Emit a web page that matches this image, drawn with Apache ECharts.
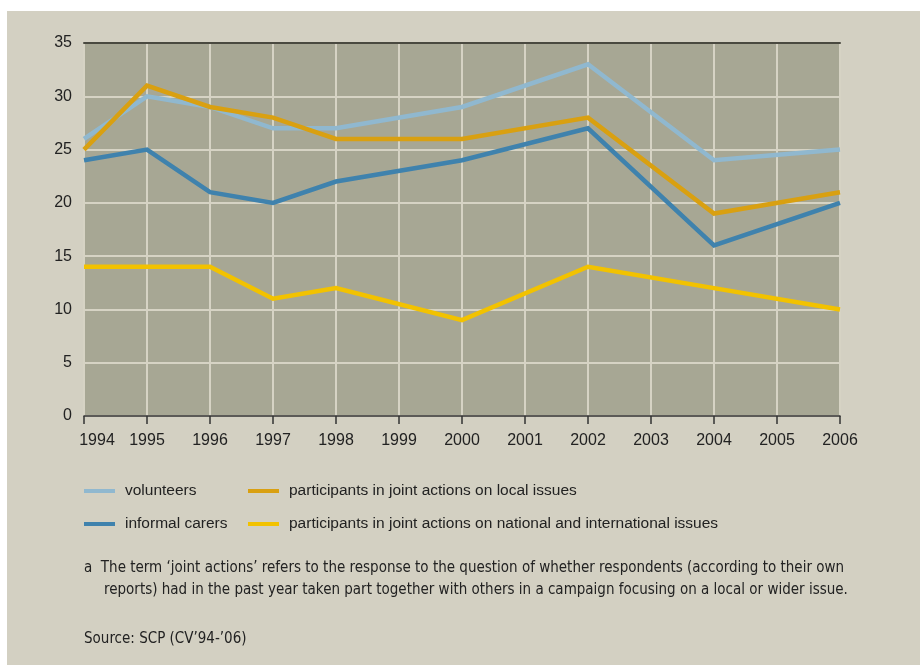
<!DOCTYPE html>
<html>
<head>
<meta charset="utf-8">
<script src="https://cdn.jsdelivr.net/npm/echarts@6/dist/echarts.min.js"></script>
<style>
  html, body { margin: 0; padding: 0; background: #fff; }
  #chart { width: 920px; height: 667px; }
</style>
</head>
<body>
<div id="chart"></div>
<script>
const years = ['1994', '1995', '1996', '1997', '1998', '1999', '2000', '2001', '2002', '2003', '2004', '2005', '2006'];
// surveyed years only; odd years after 1998 have no measurement
const volunteers = [26, 30, 29, 27, 27, null, 29, null, 33, null, 24, null, 25];
const informalCarers = [24, 25, 21, 20, 22, null, 24, null, 27, null, 16, null, 20];
const localIssues = [25, 31, 29, 28, 26, null, 26, null, 28, null, 19, null, 21];
const nationalIssues = [14, 14, 14, 11, 12, null, 9, null, 14, null, 12, null, 10];
const seriesNames = [
  'volunteers',
  'informal carers',
  'participants in joint actions on local issues',
  'participants in joint actions on national and international issues',
];
const footnote1 = 'a  The term \u2018joint actions\u2019 refers to the response to the question of whether respondents (according to their own';
const footnote2 = 'reports) had in the past year taken part together with others in a campaign focusing on a local or wider issue.';
const sourceText = 'Source: SCP (CV\u201994-\u201906)';

const narrow = '"DejaVu Sans Condensed", sans-serif';
const sans = '"Liberation Sans", Arial, sans-serif';
const colors = ['#90b8cf', '#3f82ad', '#d9a011', '#f2c200'];

const chart = echarts.init(document.getElementById('chart'));

function lineSeries(name, data, color) {
  return {
    name: name,
    type: 'line',
    data: data,
    connectNulls: true,
    symbol: 'none',
    lineStyle: { color: color, width: 4.5, join: 'miter' },
    itemStyle: { color: color },
  };
}

const legendText = {
  color: '#222',
  fontFamily: sans,
  fontSize: 15.5,
  lineHeight: 18,
  padding: [0, 0, 0, 5],
};

chart.setOption({
  backgroundColor: '#fff',
  animation: false,
  color: colors,
  graphic: [
    {
      type: 'rect',
      left: 7, top: 11, z: -10,
      shape: { width: 913, height: 654 },
      style: { fill: '#d3d0c2' },
    },
    {
      type: 'text', left: 84, top: 561,
      style: { text: footnote1, fill: '#222', font: '15px ' + narrow },
    },
    {
      type: 'text', left: 104, top: 583,
      style: { text: footnote2, fill: '#222', font: '15px ' + narrow },
    },
    {
      type: 'text', left: 84, top: 632,
      style: { text: sourceText, fill: '#222', font: '15px ' + narrow },
    },
  ],
  grid: {
    left: 84, right: 80, top: 43, bottom: 251,
    show: true, backgroundColor: '#a7a794', borderWidth: 0,
  },
  legend: [
    {
      orient: 'vertical', left: 84, top: 482, padding: 0,
      itemWidth: 31, itemHeight: 4, itemGap: 15,
      icon: 'rect',
      data: [seriesNames[0], seriesNames[1]],
      textStyle: legendText,
    },
    {
      orient: 'vertical', left: 248, top: 482, padding: 0,
      itemWidth: 31, itemHeight: 4, itemGap: 15,
      icon: 'rect',
      data: [seriesNames[2], seriesNames[3]],
      textStyle: legendText,
    },
  ],
  xAxis: [
    {
      type: 'category',
      data: years,
      boundaryGap: false,
      axisLine: { lineStyle: { color: '#333', width: 1.5 } },
      axisTick: { interval: 0, length: 8, lineStyle: { color: '#333', width: 1.5 } },
      axisLabel: {
        interval: 0,
        hideOverlap: false,
        color: '#222', fontSize: 16, margin: 17,
        fontFamily: sans,
        // first year label sits to the right of its tick
        formatter: (v, i) => (i === 0 ? '{first|' + v + '}' : v),
        rich: {
          first: { padding: [0, 0, 0, 26], color: '#222', fontSize: 16, fontFamily: sans },
        },
      },
      splitLine: { show: true, interval: 0, lineStyle: { color: '#d6d3c4', width: 2 } },
    },
    {
      type: 'category',
      data: years,
      boundaryGap: false,
      position: 'top',
      axisLine: { lineStyle: { color: '#4a4a40', width: 2 } },
      axisTick: { show: false },
      axisLabel: { show: false },
      splitLine: { show: false },
    },
  ],
  yAxis: {
    type: 'value',
    min: 0, max: 35, interval: 5,
    axisLine: { show: false },
    axisTick: { show: false },
    axisLabel: {
      color: '#222', fontSize: 16, margin: 12,
      fontFamily: sans,
    },
    splitLine: { lineStyle: { color: '#d6d3c4', width: 2 } },
  },
  series: [
    lineSeries(seriesNames[0], volunteers, colors[0]),
    lineSeries(seriesNames[1], informalCarers, colors[1]),
    lineSeries(seriesNames[2], localIssues, colors[2]),
    lineSeries(seriesNames[3], nationalIssues, colors[3]),
  ],
});
</script>
</body>
</html>
